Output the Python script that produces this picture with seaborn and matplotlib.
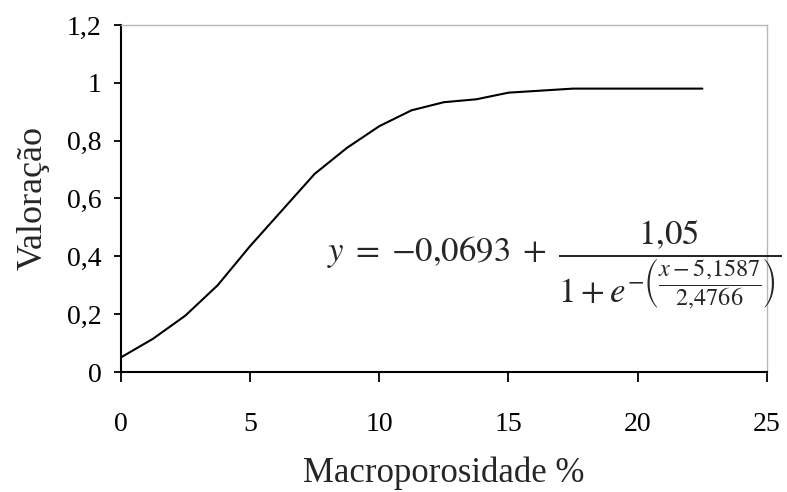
import matplotlib
matplotlib.use("Agg")
import matplotlib.pyplot as plt
import seaborn as sns
import pandas as pd

# Macroporosity (%) and the corresponding valuation score
macroporosidade = [0, 1.25, 2.5, 3.75, 5, 6.25, 7.5, 8.75, 10, 11.25, 12.5, 13.75, 15, 17.5, 20, 22.5]
valoracao = [0.05, 0.115, 0.195, 0.30, 0.435, 0.56, 0.685, 0.775, 0.85, 0.905, 0.933, 0.943, 0.966, 0.98, 0.98, 0.98]

x_ticks = [0, 5, 10, 15, 20, 25]
y_ticks = [0, 0.2, 0.4, 0.6, 0.8, 1.0, 1.2]
y_tick_labels = ["0", "0,2", "0,4", "0,6", "0,8", "1", "1,2"]

sns.set_style("white")
plt.rcParams["font.family"] = ["Liberation Serif", "DejaVu Serif"]
plt.rcParams["mathtext.fontset"] = "stix"

df = pd.DataFrame({"x": macroporosidade, "y": valoracao})

fig = plt.figure(figsize=(7.87, 4.92), dpi=100)
ax = fig.add_axes([0.1534, 0.2439, 0.8212, 0.7053])

sns.lineplot(data=df, x="x", y="y", color="black", linewidth=1.5, ax=ax)

ax.set_xlim(0, 25)
ax.set_ylim(0, 1.2)
ax.set_xticks(x_ticks)
ax.set_xticklabels([str(t) for t in x_ticks])
ax.set_yticks(y_ticks)
ax.set_yticklabels(y_tick_labels)

for side in ("left", "bottom"):
    ax.spines[side].set_color("black")
    ax.spines[side].set_linewidth(1.5)
for side in ("top", "right"):
    ax.spines[side].set_color("#b8b8b8")
    ax.spines[side].set_linewidth(1.0)

ax.tick_params(axis="x", which="major", direction="out", length=7, width=1.3,
               pad=22, labelsize=20, colors="black", bottom=True)
ax.tick_params(axis="y", which="major", direction="out", length=5, width=1.3,
               pad=9, labelsize=20, colors="black", left=True)

ax.set_xlabel("Macroporosidade %", fontsize=25, labelpad=14)
ax.set_ylabel("Valoração", fontsize=26, labelpad=12)

equation = (r"$y\;=\;{-}0{,}0693\;+\;\dfrac{1{,}05}"
            r"{1+e^{-\left(\dfrac{x-5{,}1587}{2{,}4766}\right)}}$")
fig.text(781 / 787, 1 - 218 / 492, equation, fontsize=25, ha="right", va="top")

fig.savefig("out.png", dpi=100, facecolor="white")
